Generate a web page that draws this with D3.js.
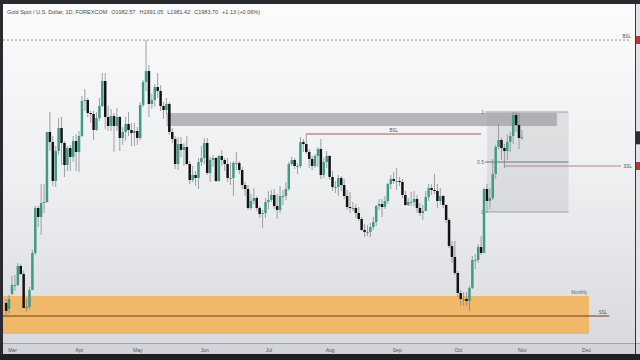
<!DOCTYPE html>
<html>
<head>
<meta charset="utf-8">
<script src="https://cdn.jsdelivr.net/npm/d3@7"></script>
<style>
  html, body { margin: 0; padding: 0; background: #1f2024; }
  svg { display: block; }
</style>
</head>
<body>
<svg id="chart" width="640" height="360"></svg>
<script>
const width = 640;
const height = 360;

// daily candles, Feb 27 -> Nov 1 (weekdays)
const opens = [
  1818,1812,1827,1836,1836,1855,1847,1813,1814,1831,
  1868,1913,1904,1918,1919,1989,1979,1940,1970,1993,
  1978,1956,1973,1964,1980,1969,1985,2020,2021,2008,
  2007,1991,2003,2015,2040,2004,1995,2005,1995,2004,
  1983,1989,1997,1991,1988,1990,1983,2016,2039,2050,
  2017,2021,2034,2030,2015,2011,2017,1989,1982,1957,
  1977,1971,1974,1957,1941,1946,1943,1959,1963,1978,
  1948,1961,1963,1940,1965,1961,1957,1943,1943,1958,
  1958,1951,1936,1932,1913,1920,1923,1913,1907,1908,
  1919,1921,1926,1915,1911,1925,1925,1932,1957,1961,
  1955,1955,1979,1977,1969,1962,1955,1965,1972,1946,
  1959,1965,1944,1934,1934,1943,1936,1925,1914,1913,
  1913,1908,1902,1891,1889,1889,1894,1899,1915,1917,
  1914,1920,1937,1942,1940,1940,1939,1926,1916,1919,
  1919,1922,1913,1908,1910,1924,1933,1931,1930,1920,
  1925,1916,1901,1875,1864,1848,1828,1822,1822,1820,
  1833,1861,1861,1874,1868,1932,1920,1923,1947,1974,
  1981,1973,1970,1979,1985,2006,1996,1982.57
];
const highs = [
  1822,1826,1845,1846,1858,1857,1850,1822,1834,1871,
  1915,1915,1937,1937,1989,2009,1985,1975,2003,2004,
  1980,1975,1976,1985,1987,1990,2025,2032,2023,2010,
  2010,2009,2023,2048,2048,2015,2012,2008,2013,2005,
  1994,2004,2009,1998,1998,1994,2019,2041,2081,2056,
  2027,2037,2048,2036,2019,2023,2019,1993,1985,1984,
  1984,1978,1985,1960,1955,1950,1963,1975,1983,1983,
  1964,1966,1964,1966,1971,1963,1963,1959,1960,1969,
  1960,1954,1939,1936,1927,1933,1925,1915,1911,1923,
  1930,1931,1932,1927,1935,1931,1939,1959,1964,1963,
  1958,1984,1982,1987,1972,1965,1967,1974,1982,1963,
  1970,1966,1950,1940,1946,1945,1942,1931,1929,1919,
  1917,1914,1904,1897,1896,1898,1904,1916,1922,1922,
  1925,1938,1946,1949,1953,1944,1942,1930,1923,1929,
  1930,1926,1918,1916,1930,1937,1937,1947,1937,1933,
  1926,1917,1903,1880,1880,1850,1831,1829,1829,1835,
  1865,1867,1877,1885,1933,1937,1933,1962,1976,1997,
  1983,1977,1987,1989,2009,2009,2008,1991.05
];
const lows = [
  1805,1808,1826,1830,1835,1846,1813,1809,1811,1831,
  1866,1894,1886,1908,1918,1970,1935,1934,1966,1956,
  1944,1950,1950,1959,1950,1949,1984,2010,2004,1998,
  1981,1990,2000,2014,1992,1990,1990,1969,1990,1970,
  1976,1980,1985,1975,1975,1976,1981,2014,2030,2004,
  2012,2014,2023,2010,2002,2007,1986,1978,1952,1951,
  1964,1955,1956,1937,1939,1935,1932,1955,1957,1946,
  1939,1954,1939,1939,1955,1950,1939,1936,1925,1951,
  1947,1932,1925,1911,1911,1917,1910,1903,1893,1903,
  1912,1919,1912,1902,1908,1916,1921,1930,1955,1952,
  1947,1953,1969,1967,1953,1951,1953,1954,1942,1943,
  1953,1941,1930,1928,1925,1930,1922,1911,1908,1910,
  1903,1900,1890,1884,1885,1884,1891,1895,1911,1904,
  1912,1917,1932,1937,1931,1935,1923,1915,1915,1915,
  1915,1908,1905,1901,1910,1920,1926,1927,1913,1916,
  1913,1898,1873,1858,1846,1824,1815,1815,1815,1810,
  1832,1852,1858,1866,1868,1908,1912,1921,1942,1972,
  1961,1953,1961,1969,1977,1989,1972,1981.42
];
const closes = [
  1810,1822,1836,1836,1855,1847,1813,1814,1831,1868,
  1913,1904,1918,1919,1989,1979,1940,1970,1993,1978,
  1956,1973,1964,1980,1969,1985,2020,2021,2008,2007,
  1991,2003,2015,2040,2004,1995,2005,1995,2004,1983,
  1989,1997,1991,1988,1990,1983,2016,2039,2050,2017,
  2021,2034,2030,2015,2011,2017,1989,1982,1957,1977,
  1971,1974,1957,1941,1946,1943,1959,1963,1978,1948,
  1961,1963,1940,1965,1961,1957,1943,1943,1958,1958,
  1951,1936,1932,1913,1920,1923,1913,1907,1908,1919,
  1921,1926,1915,1911,1925,1925,1932,1957,1961,1955,
  1955,1979,1977,1969,1962,1955,1965,1972,1946,1959,
  1965,1944,1934,1934,1943,1936,1925,1914,1913,1913,
  1908,1902,1891,1889,1889,1894,1899,1915,1917,1914,
  1920,1937,1942,1940,1940,1939,1926,1916,1919,1919,
  1922,1913,1908,1910,1924,1933,1931,1930,1920,1925,
  1916,1901,1875,1864,1848,1828,1822,1822,1820,1833,
  1861,1861,1874,1868,1932,1920,1923,1947,1974,1981,
  1973,1970,1979,1985,2006,1996,1983,1983.70
];

const monthLabels = ['Mar', 'Apr', 'May', 'Jun', 'Jul', 'Aug', 'Sep', 'Oct', 'Nov', 'Dec'];

const header = 'Gold Spot / U.S. Dollar, 1D, FOREXCOM';
const ohlcText = ['O1982.57', 'H1991.05', 'L1981.42', 'C1983.70', '+1.13 (+0.06%)'];

// drawings: price levels and candle indices
const bsl = {price: 2081, label: 'BSL'};
const innerBsl = {price: 1987, from: 103, to: 163, label: 'BSL'};
const orderBlock = {top: 2008, bottom: 1995, from: 55, to: 189};
const fib = {high: 2009, low: 1909, from: 165, to: 193, levels: [1, 0.5, 0]};
const innerSsl = {price: 1955, from: 171, label: 'SSL'};
const monthly = {top: 1825, bottom: 1787, to: 200, label: 'Monthly'};
const ssl = {price: 1805, to: 207, label: 'SSL'};

// weekdays from Feb 27 through December
const days = d3.timeDay.range(new Date(2023, 1, 27), new Date(2023, 11, 20))
  .filter(d => d.getDay() !== 0 && d.getDay() !== 6);

const candles = closes.map((c, i) => ({
  i, o: opens[i], h: highs[i], l: lows[i], c
}));

const plot = {left: 3, right: 635, top: 4, bottom: 343};

const x = d3.scaleLinear().domain([2, 199]).range([12, 586]);
const y = d3.scaleLinear().domain([1781, 2111]).range([340, 10]);

const svg = d3.select('#chart');
const defs = svg.append('defs');

const grad = defs.append('linearGradient')
  .attr('id', 'bg').attr('x1', 0).attr('y1', 0).attr('x2', 0).attr('y2', 1);
grad.append('stop').attr('offset', 0).attr('stop-color', '#fbfbfc');
grad.append('stop').attr('offset', 0.55).attr('stop-color', '#edeef0');
grad.append('stop').attr('offset', 1).attr('stop-color', '#d9dadf');

defs.append('clipPath').attr('id', 'clip')
  .append('rect')
  .attr('x', plot.left).attr('y', plot.top)
  .attr('width', plot.right - plot.left).attr('height', plot.bottom - plot.top);

// frame
svg.append('rect').attr('width', width).attr('height', height).attr('fill', '#1f2024');
svg.append('rect')
  .attr('x', plot.left).attr('y', plot.top)
  .attr('width', plot.right - plot.left).attr('height', plot.bottom - plot.top)
  .attr('fill', 'url(#bg)');
svg.append('rect')
  .attr('x', plot.left).attr('y', plot.bottom)
  .attr('width', width - plot.left).attr('height', 11)
  .attr('fill', '#d2d4d9');
svg.append('rect')
  .attr('x', plot.right).attr('y', plot.top)
  .attr('width', width - plot.right).attr('height', plot.bottom - plot.top)
  .attr('fill', '#e2e3e6');

const g = svg.append('g').attr('clip-path', 'url(#clip)');

// monthly zone
g.append('rect')
  .attr('x', plot.left)
  .attr('y', y(monthly.top))
  .attr('width', x(monthly.to) - plot.left)
  .attr('height', y(monthly.bottom) - y(monthly.top))
  .attr('fill', '#f0b868');
g.append('text')
  .attr('x', x(monthly.to) - 2).attr('y', y(monthly.top) - 2)
  .attr('text-anchor', 'end')
  .attr('font-family', 'Liberation Sans, sans-serif')
  .attr('font-size', 4.5)
  .attr('fill', '#666')
  .text(monthly.label);

// order block
g.append('rect')
  .attr('x', x(orderBlock.from))
  .attr('y', y(orderBlock.top))
  .attr('width', x(orderBlock.to) - x(orderBlock.from))
  .attr('height', y(orderBlock.bottom) - y(orderBlock.top))
  .attr('fill', '#b6b7bc');

// fib box
const fibY = lv => y(fib.low + (fib.high - fib.low) * lv);
g.append('rect')
  .attr('x', x(fib.from)).attr('y', fibY(1))
  .attr('width', x(fib.to) - x(fib.from))
  .attr('height', fibY(0) - fibY(1))
  .attr('fill', '#9a9ca4').attr('fill-opacity', 0.22);
g.selectAll('.fib')
  .data(fib.levels)
  .join('line')
  .attr('x1', x(fib.from) - 2).attr('x2', x(fib.to))
  .attr('y1', d => fibY(d)).attr('y2', d => fibY(d))
  .attr('stroke', d => d === 0.5 ? '#55575c' : '#8d8f95')
  .attr('stroke-width', 0.8);
g.selectAll('.fibLabel')
  .data(fib.levels)
  .join('text')
  .attr('x', x(fib.from) - 3)
  .attr('y', d => fibY(d) + 1.6)
  .attr('text-anchor', 'end')
  .attr('font-family', 'Liberation Sans, sans-serif')
  .attr('font-size', 5)
  .attr('fill', '#666')
  .text(d => d);

// candles
const candle = g.append('g').selectAll('g')
  .data(candles)
  .join('g')
  .attr('transform', d => `translate(${x(d.i)},0)`);

candle.append('line')
  .attr('y1', d => y(d.h))
  .attr('y2', d => y(d.l))
  .attr('stroke', '#7c7d82')
  .attr('stroke-width', 0.7);

candle.append('rect')
  .attr('x', -1.25)
  .attr('width', 2.5)
  .attr('y', d => y(Math.max(d.o, d.c)))
  .attr('height', d => Math.max(0.9, Math.abs(y(d.o) - y(d.c))))
  .attr('fill', d => d.c >= d.o ? '#3f9b86' : '#131313');

// top BSL dotted line
g.append('line')
  .attr('x1', plot.left).attr('x2', plot.right - 4)
  .attr('y1', y(bsl.price)).attr('y2', y(bsl.price))
  .attr('stroke', '#8c6c6c')
  .attr('stroke-width', 0.8)
  .attr('stroke-dasharray', '2,2');
g.append('text')
  .attr('x', plot.right - 4).attr('y', y(bsl.price) - 2)
  .attr('text-anchor', 'end')
  .attr('font-family', 'Liberation Sans, sans-serif')
  .attr('font-size', 4.5)
  .attr('fill', '#555')
  .text(bsl.label);

// inner BSL
g.append('line')
  .attr('x1', x(innerBsl.from)).attr('x2', x(innerBsl.to))
  .attr('y1', y(innerBsl.price)).attr('y2', y(innerBsl.price))
  .attr('stroke', '#a8454a')
  .attr('stroke-width', 0.9);
g.append('text')
  .attr('x', (x(innerBsl.from) + x(innerBsl.to)) / 2).attr('y', y(innerBsl.price) - 2)
  .attr('text-anchor', 'middle')
  .attr('font-family', 'Liberation Sans, sans-serif')
  .attr('font-size', 4.5)
  .attr('fill', '#555')
  .text(innerBsl.label);

// inner SSL
g.append('line')
  .attr('x1', x(innerSsl.from)).attr('x2', plot.right - 14)
  .attr('y1', y(innerSsl.price)).attr('y2', y(innerSsl.price))
  .attr('stroke', '#9a7073')
  .attr('stroke-width', 0.8);
g.append('text')
  .attr('x', plot.right - 3).attr('y', y(innerSsl.price) + 1.6)
  .attr('text-anchor', 'end')
  .attr('font-family', 'Liberation Sans, sans-serif')
  .attr('font-size', 4.5)
  .attr('fill', '#555')
  .text(innerSsl.label);

// lower SSL
g.append('line')
  .attr('x1', plot.left).attr('x2', x(ssl.to))
  .attr('y1', y(ssl.price)).attr('y2', y(ssl.price))
  .attr('stroke', '#6e3a1c')
  .attr('stroke-width', 1);
g.append('text')
  .attr('x', x(ssl.to) - 2).attr('y', y(ssl.price) - 2)
  .attr('text-anchor', 'end')
  .attr('font-family', 'Liberation Sans, sans-serif')
  .attr('font-size', 4.5)
  .attr('fill', '#555')
  .text(ssl.label);

// x axis
const monthStarts = monthLabels.map((m, k) => days.findIndex(d => d.getMonth() === k + 2));
svg.append('line')
  .attr('x1', plot.left).attr('x2', width)
  .attr('y1', plot.bottom + 0.5).attr('y2', plot.bottom + 0.5)
  .attr('stroke', '#8e9095').attr('stroke-width', 0.7);

svg.append('g')
  .attr('transform', `translate(0,${plot.bottom})`)
  .call(d3.axisBottom(x).tickValues(monthStarts).tickFormat((d, k) => monthLabels[k]).tickSize(0).tickPadding(5))
  .call(a => a.select('.domain').remove())
  .call(a => a.selectAll('text')
    .attr('font-family', 'Liberation Sans, sans-serif')
    .attr('font-size', 5)
    .attr('fill', '#555'));

// right edge + price tags
svg.append('line')
  .attr('x1', plot.right + 0.5).attr('x2', plot.right + 0.5)
  .attr('y1', plot.top).attr('y2', 354)
  .attr('stroke', '#35363b').attr('stroke-width', 1);
svg.append('rect').attr('x', plot.right + 1).attr('y', y(bsl.price) - 4).attr('width', 4).attr('height', 8).attr('fill', '#b3363c');
svg.append('rect').attr('x', plot.right + 1).attr('y', y(innerSsl.price) - 4).attr('width', 4).attr('height', 8).attr('fill', '#b3363c');
svg.append('rect').attr('x', plot.right + 1).attr('y', y(closes[closes.length - 1]) - 6).attr('width', 4).attr('height', 13).attr('fill', '#2c2d31');

// top bar, left strip, bottom strip
svg.append('rect').attr('x', 0).attr('y', 0).attr('width', width).attr('height', plot.top).attr('fill', '#2a2b30');
svg.append('rect').attr('x', 0).attr('y', 0).attr('width', plot.left).attr('height', height).attr('fill', '#2a2b30');
svg.append('rect').attr('x', 0).attr('y', 354).attr('width', width).attr('height', 6).attr('fill', '#1f2024');

// header
const head = svg.append('text')
  .attr('x', 7).attr('y', 14)
  .attr('font-family', 'Liberation Sans, sans-serif')
  .attr('font-size', 5.5)
  .attr('fill', '#4a4a4e');
head.append('tspan').text(header);
ohlcText.forEach(t => head.append('tspan').attr('dx', 4).text(t));
</script>
</body>
</html>
